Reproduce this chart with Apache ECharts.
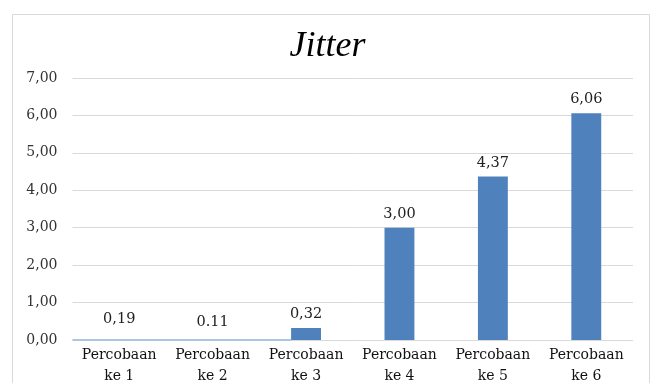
<!DOCTYPE html>
<html><head><meta charset="utf-8">
<script src="https://cdn.jsdelivr.net/npm/echarts@6/dist/echarts.min.js"></script>
<style>html,body{margin:0;padding:0;background:#fff}#c{width:655px;height:383px}</style>
</head><body><div id="c"></div>
<script>
const categories = ['Percobaan\nke 1','Percobaan\nke 2','Percobaan\nke 3','Percobaan\nke 4','Percobaan\nke 5','Percobaan\nke 6'];
const values = [0.19, 0.11, 0.32, 3.00, 4.37, 6.06];
const labelTexts = ['0,19','0.11','0,32','3,00','4,37','6,06'];
const hiddenBars = [true, true, false, false, false, false];
const baseLine = [[-0.5, 0], [1.84, 0]];
const yTicks = {min: 0, max: 7, interval: 1};

const chart = echarts.init(document.getElementById('c'));
const serif = 'Liberation Serif, Times New Roman, serif';
const wideSerif = 'DejaVu Serif, serif';
chart.setOption({
  animation: false,
  title: {text: 'Jitter', left: 'center', top: 24,
    textStyle: {fontFamily: serif, fontStyle: 'italic', fontWeight: 'normal', fontSize: 36, color: '#000'}},
  graphic: [{type: 'rect', shape: {x: 12.5, y: 14.5, width: 637, height: 380},
    style: {fill: 'none', stroke: '#d9d9d9', lineWidth: 1}, silent: true}],
  grid: {left: 72.5, right: 22, top: 78, bottom: 43, outerBoundsMode: 'none', containLabel: false},
  xAxis: [{type: 'category', data: categories,
    axisLine: {show: false}, axisTick: {show: false},
    axisLabel: {fontFamily: wideSerif, fontSize: 14, color: '#111', lineHeight: 21, margin: 5, interval: 0}},
    {type: 'value', min: -0.5, max: 5.5, show: false}],
  yAxis: {type: 'value', min: yTicks.min, max: yTicks.max, interval: yTicks.interval,
    axisLine: {show: false}, axisTick: {show: false},
    splitLine: {lineStyle: {color: '#d9d9d9', width: 1}},
    axisLabel: {fontFamily: wideSerif, fontSize: 14, color: '#333', margin: 15,
      formatter: v => v.toFixed(2).replace('.', ',')}},
  series: [{type: 'bar', barWidth: '32%',
    data: values.map((v, i) => ({value: v, itemStyle: {color: hiddenBars[i] ? 'rgba(0,0,0,0)' : '#4F81BD'}})),
    label: {show: true, position: 'top', distance: 6, fontFamily: wideSerif, fontSize: 14.5, color: '#222',
      formatter: p => labelTexts[p.dataIndex]}},
    {type: 'line', xAxisIndex: 1, data: baseLine, symbol: 'none',
      lineStyle: {color: '#8EB4E3', width: 1.5}, z: 1}]
});
</script></body></html>
